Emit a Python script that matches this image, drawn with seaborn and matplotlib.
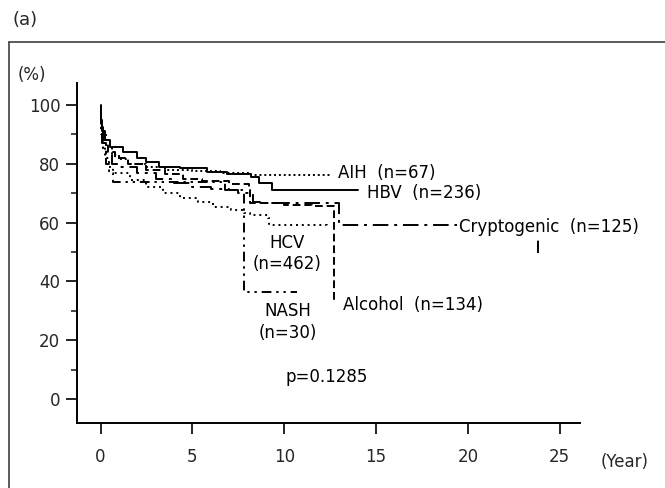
import matplotlib
matplotlib.use("Agg")
import matplotlib.pyplot as plt
from matplotlib.lines import Line2D
import seaborn as sns
import pandas as pd

# ---- data (years, survival %) ----
hbv_t = [0, 0.05, 0.1, 0.25, 0.5, 1.2, 2.0, 2.5, 3.2, 4.3, 5.8, 6.9, 8.2, 8.6, 9.35, 14.0]
hbv_s = [100, 95, 91, 88, 85.7, 84, 82, 80.6, 79, 78.6, 77.2, 76.5, 75.5, 73.5, 71, 71]

aih_t = [0, 0.05, 0.1, 0.3, 0.6, 1.0, 1.5, 2.5, 3.5, 5.0, 6.5, 8.2, 12.6]
aih_s = [100, 94, 90, 86, 83, 81.5, 80, 79, 78, 77.5, 77, 76.2, 76.2]

alc_t = [0, 0.05, 0.15, 0.4, 0.8, 1.5, 2.5, 3.5, 4.5, 5.5, 7.0, 8.1, 8.15, 10.0, 11.5, 12.7, 12.7]
alc_s = [100, 94, 88, 84, 82, 80, 78, 76.5, 75, 74, 73, 72, 66.5, 66, 65.5, 65, 33.5]

cry_t = [0, 0.05, 0.1, 0.3, 0.6, 1.0, 2.0, 3.0, 4.0, 5.0, 6.0, 7.0, 7.5, 8.3, 9.0, 13.0, 23.8, 23.8]
cry_s = [100, 93, 87, 83, 80, 79, 77, 75, 73.5, 72, 71.5, 71, 70, 67, 66.5, 59.2, 59.2, 49.7]

hcv_t = [0, 0.03, 0.1, 0.25, 0.45, 0.68, 1.6, 2.5, 3.4, 4.3, 5.3, 6.1, 7.1, 7.8, 8.15, 9.1, 9.15, 12.35]
hcv_s = [100, 93, 87, 82, 79, 76.9, 74.5, 72.1, 70.1, 68.4, 67.0, 65.3, 64.3, 63.3, 62.6, 61.6, 59.2, 58.8]

nash_t = [0, 0.05, 0.15, 0.3, 0.45, 0.68, 6.8, 7.8, 10.7]
nash_s = [100, 90, 85, 80, 77, 73.8, 71, 36.4, 36.4]

groups = ["HBV", "AIH", "Alcohol", "Cryptogenic", "HCV", "NASH"]
labels = ["HBV  (n=236)", "AIH  (n=67)", "Alcohol  (n=134)", "Cryptogenic  (n=125)",
          "HCV\n(n=462)", "NASH\n(n=30)"]
xticks = [0, 5, 10, 15, 20, 25]
yticks = [0, 20, 40, 60, 80, 100]
p_text = "p=0.1285"

series = {
    "HBV": (hbv_t, hbv_s),
    "AIH": (aih_t, aih_s),
    "Alcohol": (alc_t, alc_s),
    "Cryptogenic": (cry_t, cry_s),
    "HCV": (hcv_t, hcv_s),
    "NASH": (nash_t, nash_s),
}
dash_styles = {
    "HBV": None,
    "AIH": (1, 1.5),
    "Alcohol": (4, 2),
    "Cryptogenic": (8, 3, 1.5, 3),
    "HCV": (1, 2),
    "NASH": (5, 2.5, 1.2, 2.5, 1.2, 2.5),
}

sns.set_style("ticks")
plt.rcParams["font.family"] = ["DejaVu Sans"]
plt.rcParams["font.size"] = 12

fig = plt.figure(figsize=(6.65, 4.88), dpi=100)
ax = fig.add_axes([77/665, 1-423/488, (580-77)/665, (423-83)/488])

for g in groups:
    t, s = series[g]
    df = pd.DataFrame({"t": t, "s": s})
    sns.lineplot(data=df, x="t", y="s", ax=ax, estimator=None, sort=False,
                 drawstyle="steps-post", color="black", lw=1.4)
    ln = ax.lines[-1]
    ln.set_clip_on(False)
    if dash_styles[g] is not None:
        ln.set_dashes(dash_styles[g])

ax.set_xlim(-1.28, 26.1)
ax.set_ylim(-8.2, 107.5)
ax.set_xticks(xticks)
ax.set_yticks(yticks)
ax.set_yticks([10, 30, 50, 70, 90], minor=True)
ax.tick_params(axis="both", which="major", direction="out", length=8, width=1.2,
               labelsize=12, color="black")
ax.tick_params(axis="y", which="minor", direction="out", length=4, width=1.2)
ax.tick_params(axis="x", pad=10)
ax.tick_params(axis="y", pad=4)
ax.set_xlabel("")
ax.set_ylabel("")
sns.despine(ax=ax)
for sp in ["left", "bottom"]:
    ax.spines[sp].set_linewidth(1.4)
    ax.spines[sp].set_color("black")

txt = dict(fontsize=12, color="black", clip_on=False)
ax.text(12.9, 76.9, labels[1], ha="left", va="center", **txt)
ax.text(14.53, 70.1, labels[0], ha="left", va="center", **txt)
ax.text(19.5, 58.4, labels[3], ha="left", va="center",
        bbox=dict(facecolor="white", edgecolor="none", pad=1), **txt)
ax.text(10.17, 49.5, labels[4], ha="center", va="center", linespacing=1.25, **txt)
ax.text(10.2, 26.2, labels[5], ha="center", va="center", linespacing=1.25, **txt)
ax.text(13.2, 32.0, labels[2], ha="left", va="center", **txt)
ax.text(12.3, 7.5, p_text, ha="center", va="center", **txt)

fig.text(18/665, 1-75/488, "(%)", ha="left", va="center", fontsize=12)
fig.text(601/665, 1-462/488, "(Year)", ha="left", va="center", fontsize=12)
fig.text(13/665, 1-20/488, "(a)", ha="left", va="center", fontsize=13)

fig.add_artist(Line2D([9/665, 1], [1-42/488, 1-42/488], transform=fig.transFigure,
                      color="0.25", lw=1.2))
fig.add_artist(Line2D([9/665, 9/665], [0, 1-42/488], transform=fig.transFigure,
                      color="0.25", lw=1.2))

fig.savefig("out.png", dpi=100, facecolor="white")
